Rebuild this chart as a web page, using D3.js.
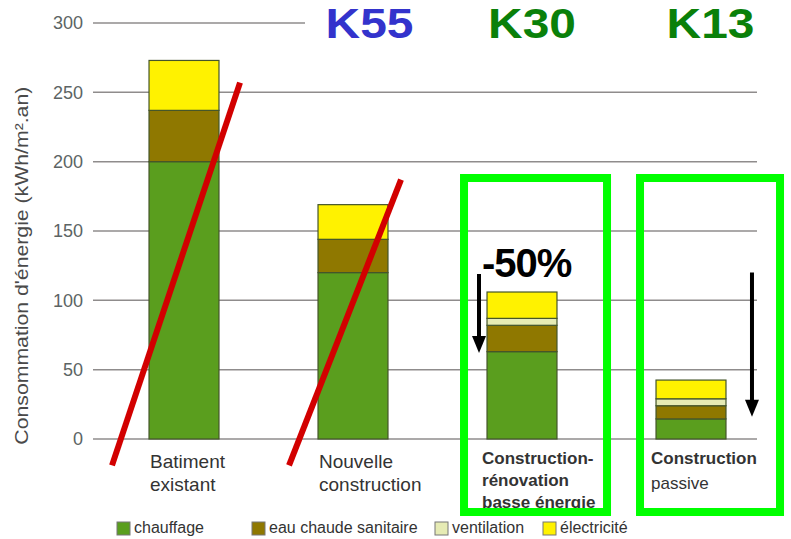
<!DOCTYPE html>
<html>
<head>
<meta charset="utf-8">
<script src="https://cdn.jsdelivr.net/npm/d3@7"></script>
<style>
  body { margin: 0; background: #fff; }
  svg { display: block; font-family: "Liberation Sans", Arial, sans-serif; }
</style>
</head>
<body>
<svg id="chart" width="791" height="539"></svg>
<script>
// categories and stacked values (kWh/m².an)
const categories = ['existant', 'nouvelle', 'renovation', 'passive'];
const categoryLabels = [
  ['Batiment', 'existant'],
  ['Nouvelle', 'construction'],
  ['Construction-', 'rénovation', 'basse énergie'],
  ['Construction', 'passive']
];
const chauffage = [200, 120, 63, 14.5];
const eauChaude = [37, 24, 19, 9.5];
const ventilation = [0, 0, 5, 5];
const electricite = [36, 25, 19, 13.5];
const seriesNames = ['chauffage', 'eau chaude sanitaire', 'ventilation', 'électricité'];
const seriesColors = ['#5a9e1e', '#8f7800', '#e6ebb4', '#fff200'];
const yTicks = [0, 50, 100, 150, 200, 250, 300];
const labelsK = ['K55', 'K30', 'K13'];
const colorsK = ['#3333cc', '#0a800a', '#0a800a'];

const svg = d3.select('#chart');

const x = d3.scaleBand().domain(categories).range([99.5, 775.5])
  .paddingInner(0.586).paddingOuter(0.293);
const y = d3.scaleLinear().domain([0, 300]).range([439, 23]);
const bw = x.bandwidth();

const rows = categories.map((c, i) => ({
  cat: c,
  chauffage: chauffage[i],
  eau: eauChaude[i],
  ventilation: ventilation[i],
  electricite: electricite[i]
}));
const keys = ['chauffage', 'eau', 'ventilation', 'electricite'];
const stacked = d3.stack().keys(keys)(rows);

// gridlines
svg.append('g')
  .selectAll('line')
  .data(yTicks)
  .join('line')
  .attr('x1', 93)
  .attr('x2', 757)
  .attr('y1', d => y(d))
  .attr('y2', d => y(d))
  .attr('stroke', '#8f8c8c')
  .attr('stroke-width', 1.5);

// Y axis labels
svg.append('g')
  .selectAll('text')
  .data(yTicks)
  .join('text')
  .attr('x', 83)
  .attr('y', d => y(d))
  .attr('dy', '0.36em')
  .attr('text-anchor', 'end')
  .attr('fill', '#5c6464')
  .style('font-size', '18px')
  .text(d => d);

// Y axis title
svg.append('text')
  .attr('transform', `translate(28, ${y(125)}) rotate(-90) scale(1.18, 1)`)
  .attr('text-anchor', 'middle')
  .attr('fill', '#4a4a4a')
  .style('font-size', '18px')
  .text("Consommation d'énergie (kWh/m².an)");

// stacked bars
stacked.forEach((layer, li) => {
  svg.append('g')
    .selectAll('rect')
    .data(layer.filter(d => d[1] > d[0]))
    .join('rect')
    .attr('x', d => x(d.data.cat))
    .attr('width', bw)
    .attr('y', d => y(d[1]))
    .attr('height', d => y(d[0]) - y(d[1]))
    .attr('fill', seriesColors[li])
    .attr('stroke', '#44552a')
    .attr('stroke-width', 1.2);
});

// category labels
categoryLabels.forEach((lines, i) => {
  const lx = x(categories[i]) + (i >= 2 ? -5 : 1);
  const t = svg.append('text')
    .attr('x', lx)
    .attr('y', i >= 2 ? 464 : 468)
    .attr('fill', '#333')
    .style('font-size', i >= 2 ? '17px' : '19px');
  lines.forEach((l, j) => {
    t.append('tspan')
      .attr('x', lx)
      .attr('dy', j === 0 ? 0 : (i === 3 ? 25 : (i === 2 ? 22 : 23)))
      .style('font-weight', (i === 2 || (i === 3 && j === 0)) ? 'bold' : 'normal')
      .text(l);
  });
});

// white cover behind titles at top
svg.append('rect')
  .attr('x', 305).attr('y', 0).attr('width', 486).attr('height', 45)
  .attr('fill', '#fff');

// K titles
labelsK.forEach((k, i) => {
  const cx = x(categories[i + 1]) + bw / 2 + [16.5, 10, 19.5][i];
  svg.append('text')
    .attr('transform', `translate(${cx}, 38) scale(1.14, 1)`)
    .attr('text-anchor', 'middle')
    .attr('fill', colorsK[i])
    .style('font-size', '42px')
    .style('font-weight', 'bold')
    .text(k);
});

// red strike-through lines
[0, 1].forEach(i => {
  const x0 = x(categories[i]);
  svg.append('line')
    .attr('x1', x0 - [37, 29][i])
    .attr('y1', y(-19))
    .attr('x2', x0 + [91, 83][i])
    .attr('y2', y([257, 187][i]))
    .attr('stroke', '#d20000')
    .attr('stroke-width', 6);
});

// green boxes
[2, 3].forEach(i => {
  const x0 = x(categories[i]);
  svg.append('rect')
    .attr('x', x0 - [23, 16][i - 2])
    .attr('y', 178)
    .attr('width', [143, 140][i - 2])
    .attr('height', 334)
    .attr('fill', 'none')
    .attr('stroke', '#00ff00')
    .attr('stroke-width', 8);
});

// -50% annotation
svg.append('text')
  .attr('x', x(categories[2]) - 5)
  .attr('y', 277)
  .attr('fill', '#000')
  .style('font-size', '40px')
  .style('font-weight', 'bold')
  .style('letter-spacing', '-1px')
  .text('-50%');

// arrows: shaft + head
const arrows = [
  { ax: x(categories[2]) - 8, top: 119, tip: 62 },
  { ax: x(categories[3]) + bw + 26, top: 120, tip: 16 }
];
arrows.forEach(a => {
  const yt = y(a.tip);
  svg.append('line')
    .attr('x1', a.ax).attr('x2', a.ax)
    .attr('y1', y(a.top)).attr('y2', yt - 12)
    .attr('stroke', '#000')
    .attr('stroke-width', 4);
  svg.append('path')
    .attr('d', `M${a.ax - 7},${yt - 17} L${a.ax + 7},${yt - 17} L${a.ax},${yt} Z`)
    .attr('fill', '#000');
});

// legend
const legendX = [117, 252, 435, 543];
const legend = svg.append('g');
seriesNames.forEach((n, i) => {
  legend.append('rect')
    .attr('x', legendX[i]).attr('y', 522)
    .attr('width', 13).attr('height', 13)
    .attr('fill', seriesColors[i])
    .attr('stroke', '#777').attr('stroke-width', 1);
  legend.append('text')
    .attr('x', legendX[i] + 17).attr('y', 533)
    .attr('fill', '#333')
    .style('font-size', '16px')
    .text(n);
});
</script>
</body>
</html>
